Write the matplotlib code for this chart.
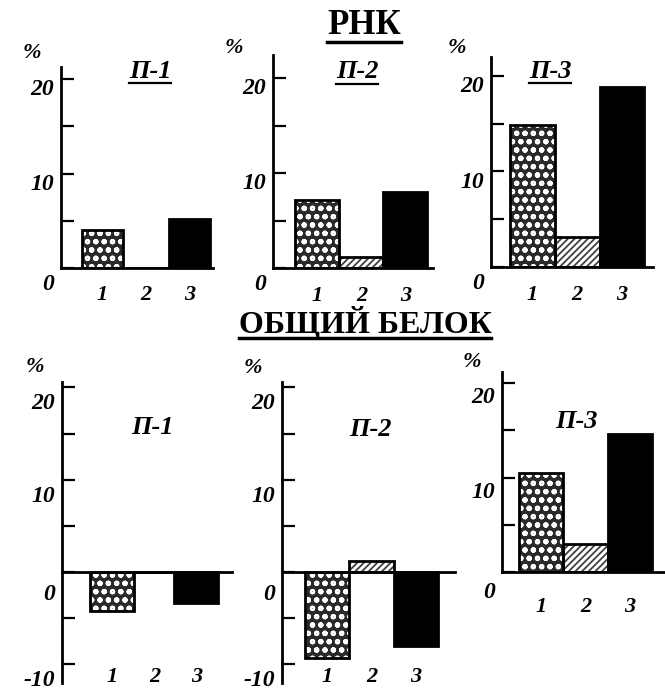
import matplotlib
matplotlib.use("Agg")
import matplotlib.pyplot as plt
import matplotlib.transforms as mtransforms
from matplotlib.lines import Line2D

plt.rcParams['font.family'] = ['Liberation Serif', 'DejaVu Serif']
plt.rcParams['hatch.linewidth'] = 1.3

W, H = 665, 696

# -----------------------------
# Data (% change)
# -----------------------------
categories = ['1', '2', '3']
panel_names = ['П-1', 'П-2', 'П-3']

rna_p1 = [4.0, 0.0, 5.2]
rna_p2 = [7.2, 1.2, 8.0]
rna_p3 = [14.9, 3.1, 18.9]

protein_p1 = [-4.2, 0.0, -3.4]
protein_p2 = [-9.3, 1.2, -8.0]
protein_p3 = [10.5, 3.0, 14.6]

tick_labels = {-10: '-10', 0: '0', 10: '10', 20: '20'}

# -----------------------------
# Panel layout in pixels: left, right, zero line, px per unit, ylim, xlim, bar width
# -----------------------------
panels = [
    dict(vals=rna_p1, name=panel_names[0], left=61, right=213, zero=268, ppu=9.45,
         ylim=(0, 21.3), xlim=(0.05, 3.53), bw=0.94, title=(150, 71), under=True,
         pct=(32, 53), cat_y=-2.9, lab_dy=8),
    dict(vals=rna_p2, name=panel_names[1], left=273, right=433, zero=268, ppu=9.5,
         ylim=(0, 22.4), xlim=(-0.01, 3.63), bw=1.0, title=(357, 72), under=True,
         pct=(234, 48), cat_y=-2.9, lab_dy=8),
    dict(vals=rna_p3, name=panel_names[2], left=491, right=653, zero=267, ppu=9.55,
         ylim=(0, 22.0), xlim=(0.08, 3.69), bw=1.0, title=(550, 71), under=True,
         pct=(457, 48), cat_y=-2.9, lab_dy=8),
    dict(vals=protein_p1, name=panel_names[0], left=62, right=232, zero=572, ppu=9.23,
         ylim=(-12, 20.6), xlim=(-0.2, 3.85), bw=1.05, title=(152, 428), under=False,
         pct=(35, 367), cat_y=-11.4, lab_dy=14),
    dict(vals=protein_p2, name=panel_names[1], left=282, right=455, zero=572, ppu=9.23,
         ylim=(-12, 20.6), xlim=(-0.01, 3.88), bw=1.0, title=(370, 429), under=False,
         pct=(253, 368), cat_y=-11.4, lab_dy=14),
    dict(vals=protein_p3, name=panel_names[2], left=502, right=665, zero=572, ppu=9.45,
         ylim=(0, 21.2), xlim=(0.12, 3.79), bw=1.0, title=(576, 422), under=False,
         pct=(472, 362), cat_y=-3.7, lab_dy=12),
]

fig = plt.figure(figsize=(W / 100, H / 100), dpi=100)
font = dict(fontweight='bold', fontstyle='italic')


def fig_xy(x, y):
    return x / W, 1 - y / H


def draw_bars(ax, xs, vals, bw):
    # 1: dark with white dots, 2: diagonal lines, 3: solid black
    with plt.rc_context({'hatch.linewidth': 1.5}):
        ax.bar(xs[0], vals[0], bw, facecolor='#2a2a2a', edgecolor='white', hatch='oo', linewidth=0)
    ax.bar(xs[1], vals[1], bw, facecolor='white', edgecolor='#404040', hatch='/////', linewidth=0)
    ax.bar(xs[2], vals[2], bw, facecolor='black', edgecolor='black', linewidth=0)
    ax.bar(xs, vals, bw, fill=False, edgecolor='black', linewidth=2)


underlines = []
for p in panels:
    y_bot = p['zero'] - p['ylim'][0] * p['ppu']
    y_top = p['zero'] - p['ylim'][1] * p['ppu']
    rect = [p['left'] / W, (H - y_bot) / H, (p['right'] - p['left']) / W, (y_bot - y_top) / H]
    ax = fig.add_axes(rect)
    ax.patch.set_alpha(0)

    xs = [1, 2, 3]
    draw_bars(ax, xs, p['vals'], p['bw'])
    ax.axhline(0, color='black', lw=2, clip_on=False)

    ax.set_xlim(*p['xlim'])
    ax.set_ylim(*p['ylim'])
    for s in ['top', 'right', 'bottom']:
        ax.spines[s].set_visible(False)
    ax.spines['left'].set_linewidth(2)

    ticks = [t for t in range(-10, 21, 5) if p['ylim'][0] <= t <= p['ylim'][1]]
    ax.set_yticks(ticks)
    ax.set_yticklabels([tick_labels.get(t, '') for t in ticks], fontsize=17, **font)
    ax.tick_params(axis='y', direction='in', length=9, width=1.6, pad=5)
    ax.set_xticks([])
    for lab, t in zip(ax.get_yticklabels(), ticks):
        dy = p['lab_dy'] + (6 if t == 0 else 0)
        off = mtransforms.ScaledTranslation(0, -dy / 100, fig.dpi_scale_trans)
        lab.set_transform(lab.get_transform() + off)

    for x, c in zip(xs, categories):
        ax.text(x, p['cat_y'], c, ha='center', va='center', fontsize=16, **font)

    tx, ty = fig_xy(*p['title'])
    t = fig.text(tx, ty, p['name'], ha='center', va='center', fontsize=19, **font)
    if p['under']:
        underlines.append((t, p['title'][1] + 12, 1.6))

    px, py = fig_xy(*p['pct'])
    fig.text(px, py, '%', ha='center', va='center', fontsize=16, **font)

t1 = fig.text(*fig_xy(364, 26), 'РНК', ha='center', va='center', fontsize=25, fontweight='bold')
t2 = fig.text(*fig_xy(365, 323), 'ОБЩИЙ БЕЛОК', ha='center', va='center', fontsize=23, fontweight='bold')
underlines.append((t1, 42, 2.5))
underlines.append((t2, 338, 2.5))

# underline titles using their rendered extents
fig.canvas.draw()
renderer = fig.canvas.get_renderer()
for txt, y_px, lw in underlines:
    bb = txt.get_window_extent(renderer)
    yy = 1 - y_px / H
    fig.add_artist(Line2D([bb.x0 / W, bb.x1 / W], [yy, yy], color='black', lw=lw,
                          transform=fig.transFigure))

fig.savefig("out.png", dpi=100)
